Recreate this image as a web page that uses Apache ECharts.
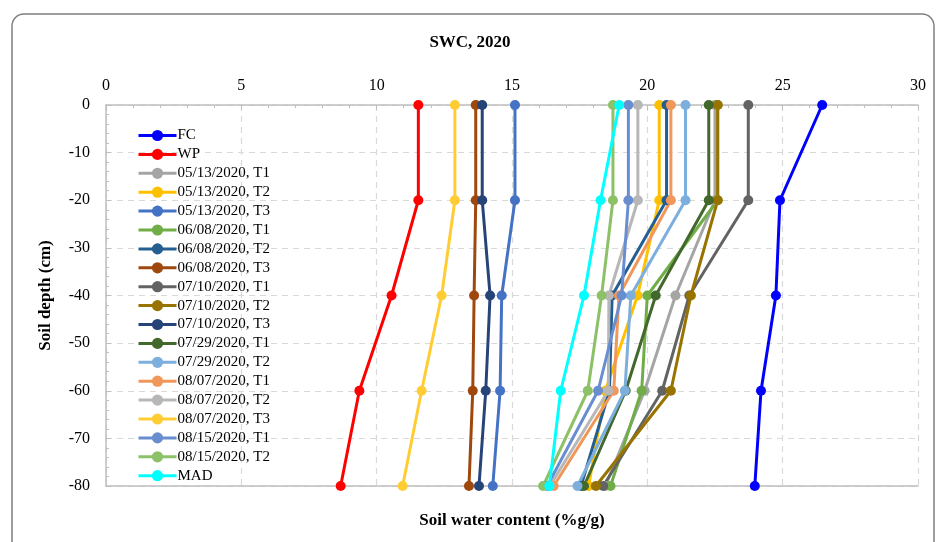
<!DOCTYPE html>
<html><head><meta charset="utf-8">
<script src="https://cdn.jsdelivr.net/npm/echarts@6/dist/echarts.min.js"></script>
<style>html,body{margin:0;padding:0;background:#fff}#c{width:940px;height:542px}</style>
</head><body><div id="c"></div>
<script>
const depths = [0, -20, -40, -60, -80];
const xTicks = [0, 5, 10, 15, 20, 25, 30];
const seriesNames = ["FC","WP","05/13/2020, T1","05/13/2020, T2","05/13/2020, T3","06/08/2020, T1","06/08/2020, T2","06/08/2020, T3","07/10/2020, T1","07/10/2020, T2","07/10/2020, T3","07/29/2020, T1","07/29/2020, T2","08/07/2020, T1","08/07/2020, T2","08/07/2020, T3","08/15/2020, T1","08/15/2020, T2","MAD"];
const FC        = [26.46, 24.90, 24.75, 24.20, 23.97];
const WP        = [11.54, 11.54, 10.55, 9.36, 8.67];
const s0513T1   = [22.50, 22.50, 21.04, 19.90, 18.45];
const s0513T2   = [20.44, 20.44, 19.64, 18.45, 17.83];
const s0513T3   = [15.11, 15.11, 14.62, 14.56, 14.29];
const s0608T1   = [22.60, 22.60, 20.00, 19.79, 18.64];
const s0608T2   = [20.71, 20.71, 18.70, 18.60, 17.55];
const s0608T3   = [13.66, 13.66, 13.60, 13.55, 13.41];
const s0710T1   = [23.73, 23.73, 21.55, 20.55, 18.37];
const s0710T2   = [22.60, 22.60, 21.61, 20.87, 18.10];
const s0710T3   = [13.90, 13.90, 14.19, 14.03, 13.78];
const s0729T1   = [22.27, 22.27, 20.31, 19.20, 17.66];
const s0729T2   = [21.41, 21.41, 19.39, 19.17, 17.42];
const s0807T1   = [20.87, 20.87, 18.95, 18.76, 16.54];
const s0807T2   = [19.65, 19.65, 18.58, 18.56, 16.40];
const s0807T3   = [12.89, 12.89, 12.40, 11.66, 10.96];
const s0815T1   = [19.30, 19.30, 19.05, 18.18, 16.30];
const s0815T2   = [18.73, 18.73, 18.31, 17.80, 16.15];
const MAD       = [18.96, 18.27, 17.66, 16.80, 16.38];
const allValues = [FC, WP, s0513T1, s0513T2, s0513T3, s0608T1, s0608T2, s0608T3, s0710T1, s0710T2, s0710T3, s0729T1, s0729T2, s0807T1, s0807T2, s0807T3, s0815T1, s0815T2, MAD];
const colors = ["#0000FF","#FF0000","#A5A5A5","#FFC000","#4472C4","#70AD47","#255E91","#9E480E","#636363","#997300","#264478","#43682B","#7CAFDD","#F1975A","#B7B7B7","#FFCD33","#698ED0","#8CC168","#00FFFF"];

const font = "Liberation Serif";
const chart = echarts.init(document.getElementById('c'), null, {renderer: 'canvas'});
const series = allValues.map((vals, i) => ({
  name: seriesNames[i],
  type: 'line',
  data: vals.map((v, k) => [v, depths[k]]),
  color: colors[i],
  symbol: 'circle',
  symbolSize: 10,
  lineStyle: {width: 3, color: colors[i]},
  itemStyle: {color: colors[i]},
  emphasis: {disabled: true},
  animation: false,
  xAxisIndex: 0, yAxisIndex: 0
}));

chart.setOption({
  animation: false,
  title: {text: 'SWC, 2020', left: 'center', top: 29, textStyle: {fontFamily: font, fontWeight: 'bold', fontSize: 17, color: '#000'}},
  graphic: [{type: 'rect', shape: {x: 12, y: 14, width: 922, height: 560, r: 12}, style: {fill: 'none', stroke: '#7f7f7f', lineWidth: 1.5}, z: -1}],
  legend: {
    orient: 'vertical', left: 132, top: 123, itemWidth: 38, itemHeight: 14, itemGap: 3.9,
    data: seriesNames,
    lineStyle: {width: 3},
    textStyle: {fontFamily: font, fontSize: 15, color: '#000', padding: [0,0,0,-4]}
  },
  grid: {left: 106, top: 105, width: 812, height: 381, containLabel: false},
  xAxis: [{
    type: 'value', position: 'top', min: xTicks[0], max: xTicks[xTicks.length-1], interval: 5,
    axisLine: {show: true, lineStyle: {color: '#bfbfbf', width: 1.5}},
    axisTick: {show: true, inside: true, length: 5, lineStyle: {color: '#bfbfbf'}},
    minorTick: {show: true, splitNumber: 5, length: 3, lineStyle: {color: '#bfbfbf'}},
    axisLabel: {fontFamily: font, fontSize: 16, color: '#000', margin: 11},
    splitLine: {show: true, lineStyle: {type: [6, 5], color: '#d9d9d9', width: 1.2}}
  }, {
    type: 'value', position: 'bottom', min: 0, max: 30, interval: 5,
    axisLine: {show: true, onZero: false, lineStyle: {color: '#bfbfbf', width: 1.5}},
    axisTick: {show: false}, axisLabel: {show: false}, splitLine: {show: false},
    name: 'Soil water content (%g/g)', nameLocation: 'middle', nameGap: 26,
    nameTextStyle: {fontFamily: font, fontWeight: 'bold', fontSize: 17, color: '#000'}
  }],
  yAxis: {
    type: 'value', min: -80, max: 0, interval: 10,
    axisLine: {show: true, onZero: false, lineStyle: {color: '#bfbfbf', width: 1.5}},
    axisTick: {show: true, inside: true, length: 5, lineStyle: {color: '#bfbfbf'}},
    minorTick: {show: true, splitNumber: 5, length: 3, lineStyle: {color: '#bfbfbf'}},
    axisLabel: {fontFamily: font, fontSize: 16, color: '#000', margin: 16},
    splitLine: {show: true, lineStyle: {type: [6, 5], color: '#d9d9d9', width: 1.2}},
    name: 'Soil depth (cm)', nameLocation: 'middle', nameGap: 52, nameRotate: 90,
    nameTextStyle: {fontFamily: font, fontWeight: 'bold', fontSize: 17, color: '#000'}
  },
  series: series
});
</script></body></html>
